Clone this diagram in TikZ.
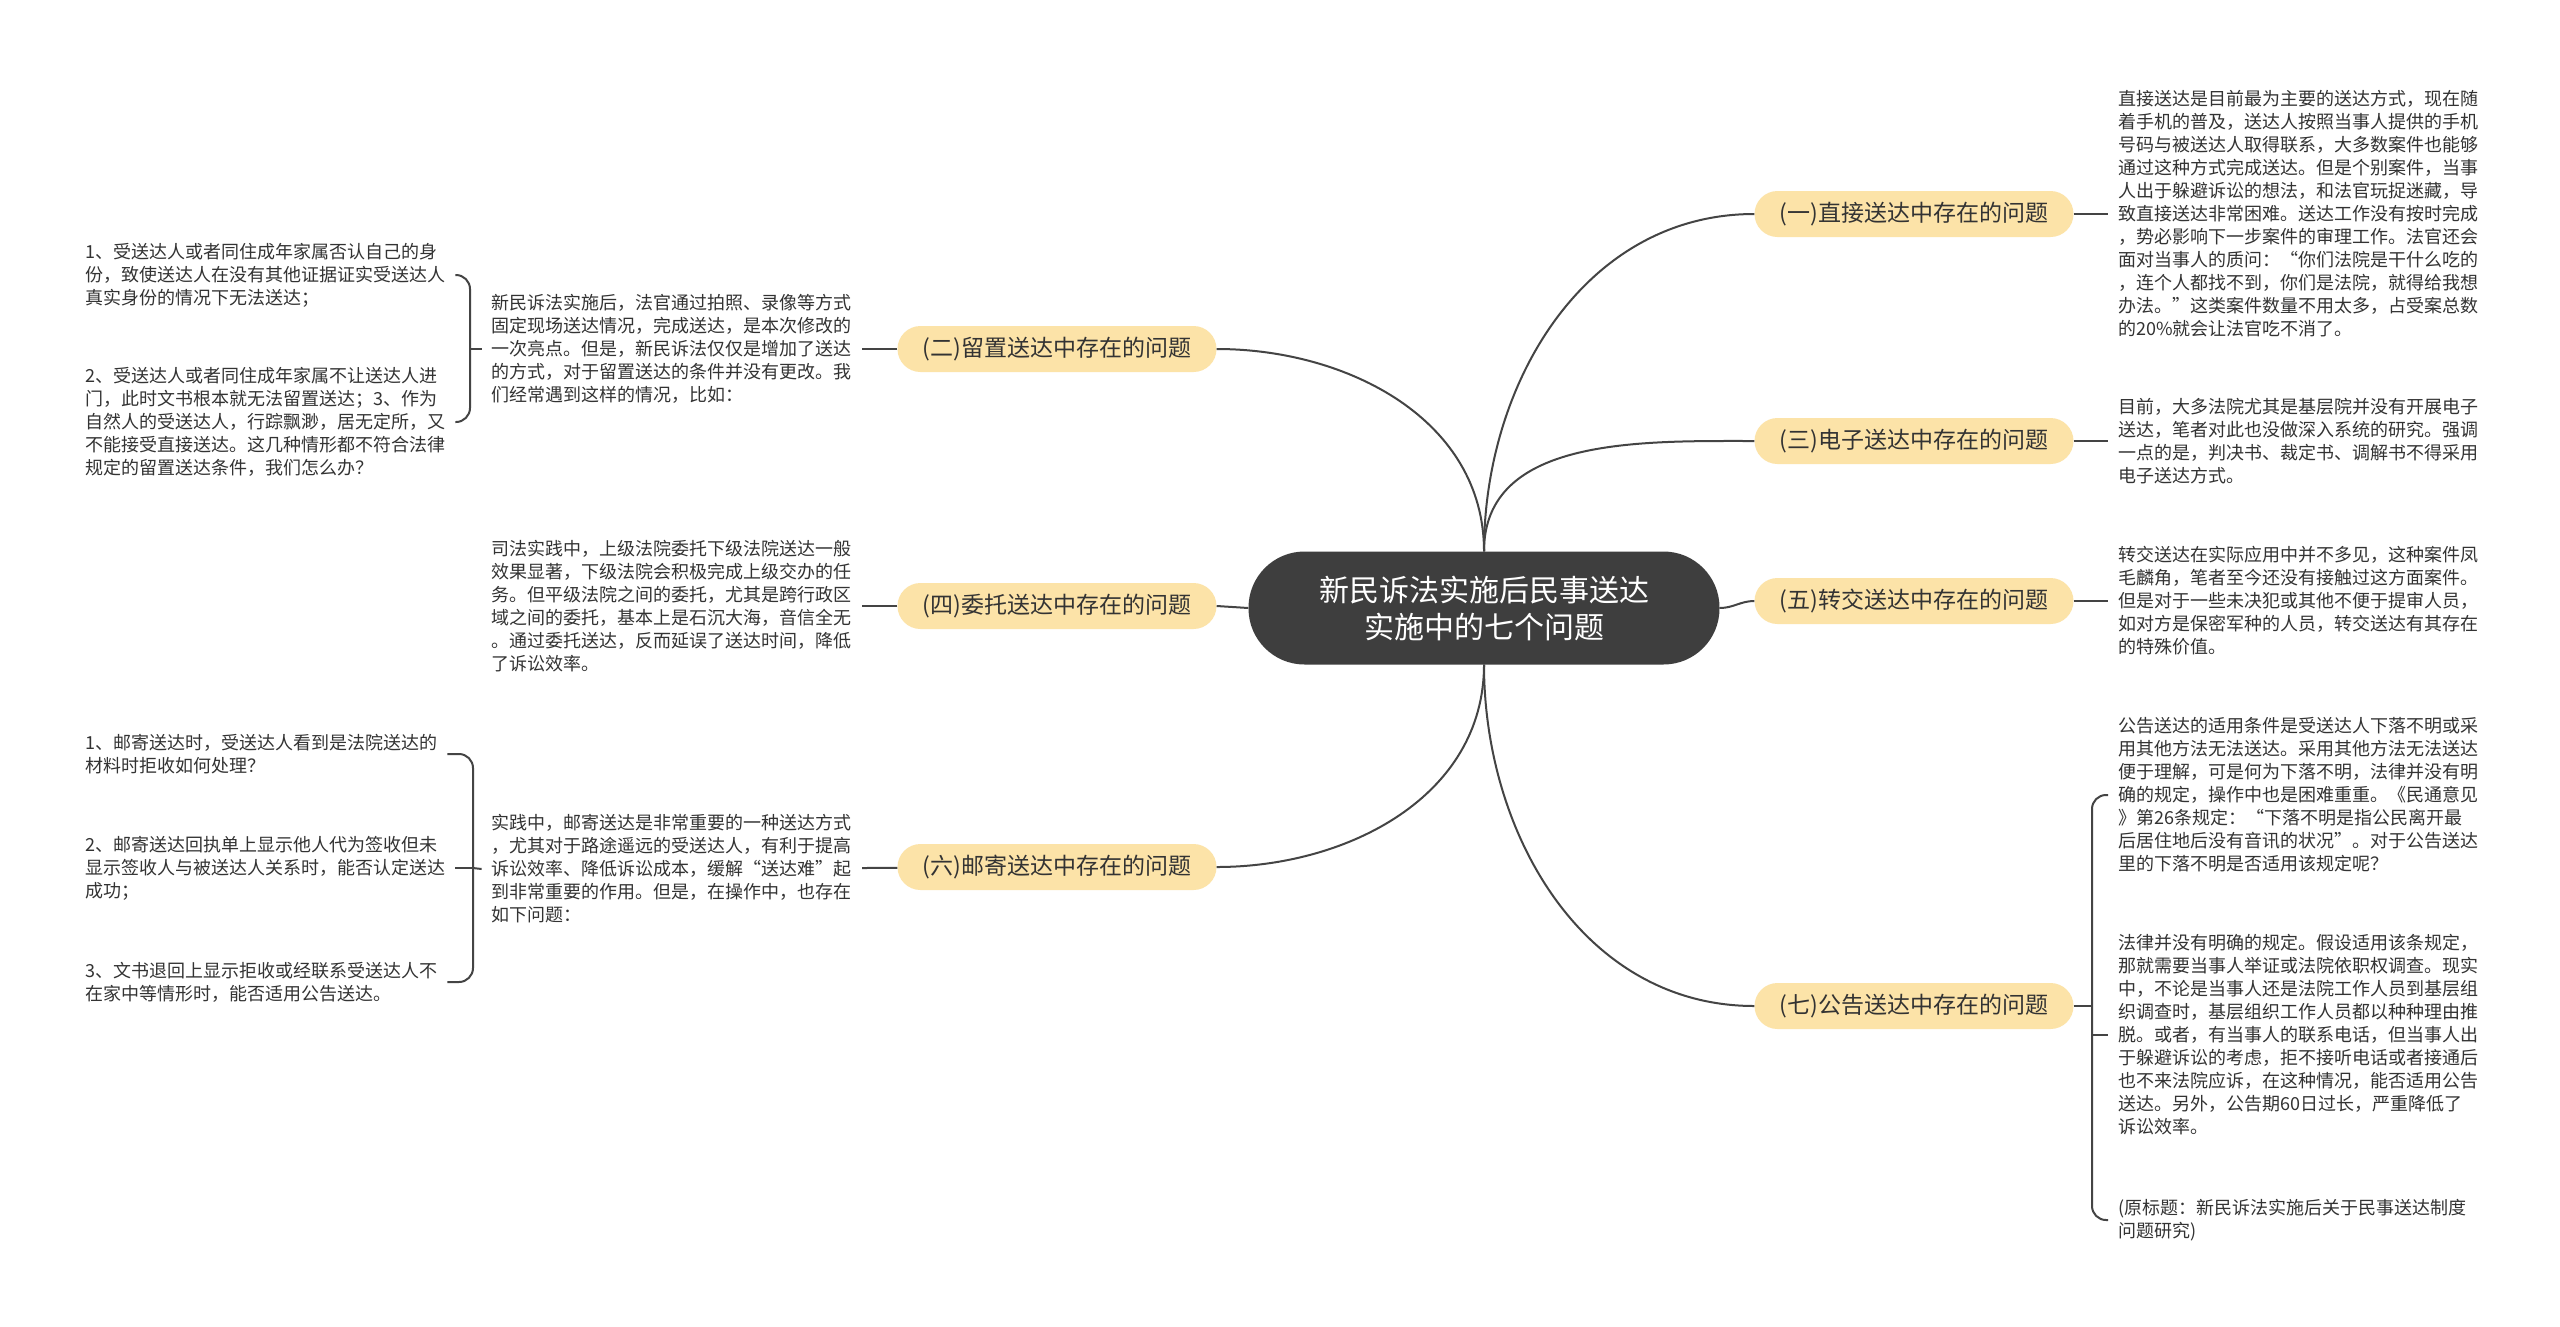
\documentclass[tikz,border=0pt]{standalone}
\usepackage{fontspec}
\setmainfont{Noto Sans CJK SC}
\usetikzlibrary{positioning}
\definecolor{topicfill}{HTML}{FCE3A8}
\definecolor{rootfill}{HTML}{3E3E3E}
\definecolor{txt}{HTML}{333333}
\definecolor{wire}{HTML}{444444}

\begin{document}
\begin{tikzpicture}[% coordinates in pixels of the 2560x1326 canvas, y going down
      x=1pt,y=-1pt,
      every node/.style={
        align=left,       % use this so that the "\\" for line break works
        text=txt
      },
      root/.style={rectangle,rounded corners=56pt,fill=rootfill,text=white,align=center,
        minimum width=471pt,minimum height=113pt,font=\fontsize{30}{37}\selectfont},
      topic/.style={rectangle,rounded corners=23pt,fill=topicfill,
        minimum width=319pt,minimum height=46pt,font=\fontsize{23}{28}\selectfont},
      leaf/.style={inner xsep=10pt,inner ysep=0pt,font=\fontsize{18}{23}\selectfont},
      brace/.style={draw=wire,line width=2pt,rounded corners=14pt},
      every edge/.style={draw=wire,line width=2pt}
    ]
    \fill[white] (0,0) rectangle (2560,1326);
    \node[root](C) at (1484,608){新民诉法实施后民事送达\\实施中的七个问题};
    % right side
    \node[topic](B1) at (1914,214){(一)直接送达中存在的问题};
    \node[topic](B3) at (1914,441){(三)电子送达中存在的问题};
    \node[topic](B5) at (1914,601){(五)转交送达中存在的问题};
    \node[topic](B7) at (1914,1006){(七)公告送达中存在的问题};
    % left side
    \node[topic](B2) at (1057,349){(二)留置送达中存在的问题};
    \node[topic](B4) at (1057,606){(四)委托送达中存在的问题};
    \node[topic](B6) at (1057,867){(六)邮寄送达中存在的问题};

    \node[leaf,anchor=west](L1) at (2108,214){直接送达是目前最为主要的送达方式，现在随\\着手机的普及，送达人按照当事人提供的手机\\号码与被送达人取得联系，大多数案件也能够\\通过这种方式完成送达。但是个别案件，当事\\人出于躲避诉讼的想法，和法官玩捉迷藏，导\\致直接送达非常困难。送达工作没有按时完成\\，势必影响下一步案件的审理工作。法官还会\\面对当事人的质问：“你们法院是干什么吃的\\，连个人都找不到，你们是法院，就得给我想\\办法。”这类案件数量不用太多，占受案总数\\的20\%就会让法官吃不消了。};
    \node[leaf,anchor=west](L3) at (2108,441){目前，大多法院尤其是基层院并没有开展电子\\送达，笔者对此也没做深入系统的研究。强调\\一点的是，判决书、裁定书、调解书不得采用\\电子送达方式。};
    \node[leaf,anchor=west](L5) at (2108,601){转交送达在实际应用中并不多见，这种案件凤\\毛麟角，笔者至今还没有接触过这方面案件。\\但是对于一些未决犯或其他不便于提审人员，\\如对方是保密军种的人员，转交送达有其存在\\的特殊价值。};
    \node[leaf,anchor=west](L7a) at (2108,795){公告送达的适用条件是受送达人下落不明或采\\用其他方法无法送达。采用其他方法无法送达\\便于理解，可是何为下落不明，法律并没有明\\确的规定，操作中也是困难重重。《民通意见\\》第26条规定：“下落不明是指公民离开最\\后居住地后没有音讯的状况”。对于公告送达\\里的下落不明是否适用该规定呢？};
    \node[leaf,anchor=west](L7b) at (2108,1035){法律并没有明确的规定。假设适用该条规定，\\那就需要当事人举证或法院依职权调查。现实\\中，不论是当事人还是法院工作人员到基层组\\织调查时，基层组织工作人员都以种种理由推\\脱。或者，有当事人的联系电话，但当事人出\\于躲避诉讼的考虑，拒不接听电话或者接通后\\也不来法院应诉，在这种情况，能否适用公告\\送达。另外，公告期60日过长，严重降低了\\诉讼效率。};
    \node[leaf,anchor=west](L7c) at (2108,1220){(原标题：新民诉法实施后关于民事送达制度\\问题研究)};

    \node[leaf,anchor=east](L2) at (862,349){新民诉法实施后，法官通过拍照、录像等方式\\固定现场送达情况，完成送达，是本次修改的\\一次亮点。但是，新民诉法仅仅是增加了送达\\的方式，对于留置送达的条件并没有更改。我\\们经常遇到这样的情况，比如：};
    \node[leaf,anchor=west](L2a) at (75,275){1、受送达人或者同住成年家属否认自己的身\\份，致使送达人在没有其他证据证实受送达人\\真实身份的情况下无法送达；};
    \node[leaf,anchor=west](L2b) at (75,422){2、受送达人或者同住成年家属不让送达人进\\门，此时文书根本就无法留置送达；3、作为\\自然人的受送达人，行踪飘渺，居无定所，又\\不能接受直接送达。这几种情形都不符合法律\\规定的留置送达条件，我们怎么办？};
    \node[leaf,anchor=east](L4) at (862,606){司法实践中，上级法院委托下级法院送达一般\\效果显著，下级法院会积极完成上级交办的任\\务。但平级法院之间的委托，尤其是跨行政区\\域之间的委托，基本上是石沉大海，音信全无\\。通过委托送达，反而延误了送达时间，降低\\了诉讼效率。};
    \node[leaf,anchor=east](L6) at (862,869){实践中，邮寄送达是非常重要的一种送达方式\\，尤其对于路途遥远的受送达人，有利于提高\\诉讼效率、降低诉讼成本，缓解“送达难”起\\到非常重要的作用。但是，在操作中，也存在\\如下问题：};
    \node[leaf,anchor=west](L6a) at (75,754){1、邮寄送达时，受送达人看到是法院送达的\\材料时拒收如何处理？};
    \node[leaf,anchor=west](L6b) at (75,868){2、邮寄送达回执单上显示他人代为签收但未\\显示签收人与被送达人关系时，能否认定送达\\成功；};
    \node[leaf,anchor=west](L6c) at (75,982){3、文书退回上显示拒收或经联系受送达人不\\在家中等情形时，能否适用公告送达。};

    \coordinate (k2) at (470,349);
    \coordinate (k6) at (473,868);
    \coordinate (k7) at (2092,1006);

    \path
    (C.north)edge [out=90,in=180] (B1.west)
    (C.north)edge [out=90,in=180] (B3.west)
    (C.east)edge [out=0,in=180] (B5.west)
    (C.south)edge [out=-90,in=180] (B7.west)
    (C.north)edge [out=90,in=0] (B2.east)
    (C.west)edge [] (B4.east)
    (C.south)edge [out=-90,in=0] (B6.east)
    (B1)edge [] (L1)
    (B3)edge [] (L3)
    (B5)edge [] (L5)
    (B2)edge [] (L2)
    (B4)edge [] (L4)
    (B6)edge [] (L6)
    (B7.east)edge [] (k7)
    (L2.west)edge [] (k2)
    (L6.west)edge [] (k6)
    ;
    \draw[brace] (L7a.west) -| (k7) |- (L7c.west);
    \draw[brace] (k7 |- L7b.west) -- (L7b.west);
    \draw[brace] (L2a.east) -| (k2) |- (L2b.east);
    \draw[brace] (L6a.east) -| (k6) |- (L6c.east);
    \draw[brace] (k6 |- L6b.east) -- (L6b.east);
  \end{tikzpicture}
\end{document}
